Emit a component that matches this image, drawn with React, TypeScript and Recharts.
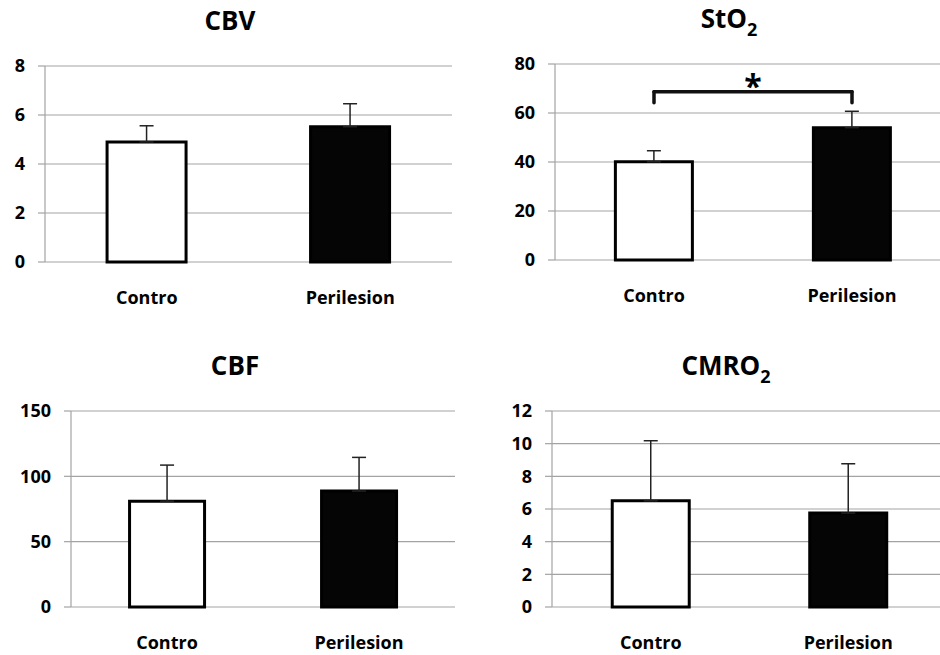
import React from 'react';
import {
  BarChart, Bar, XAxis, YAxis, CartesianGrid, ErrorBar, Cell, ReferenceLine,
} from 'recharts';

const categories = ['Contro', 'Perilesion'];

const cbvMean = [4.9, 5.52];
const cbvErr = [0.66, 0.94];
const cbvTicks = [0, 2, 4, 6, 8];

const sto2Mean = [40.1, 54.0];
const sto2Err = [4.5, 6.7];
const sto2Ticks = [0, 20, 40, 60, 80];
const sto2BracketY = [68.7, 64.2];

const cbfMean = [81, 88.7];
const cbfErr = [27.6, 25.8];
const cbfTicks = [0, 50, 100, 150];

const cmro2Mean = [6.5, 5.75];
const cmro2Err = [3.68, 3.02];
const cmro2Ticks = [0, 2, 4, 6, 8, 10, 12];

const barFills = ['#ffffff', '#050505'];

const FONT = "'Open Sans', 'DejaVu Sans', sans-serif";
const GRID = '#a3a3a3';

function build(means: number[], errs: number[]) {
  return categories.map((name, i) => ({ name, value: means[i], err: [0, errs[i]] }));
}

function YTick(props: any) {
  const { x, y, payload } = props;
  return (
    <text x={x} y={y} dy="0.36em" textAnchor="end"
      style={{ fontFamily: FONT, fontWeight: 700, fontSize: 18, fill: '#000' }}>
      {payload.value}
    </text>
  );
}

function XTick(props: any) {
  const { x, y, payload } = props;
  return (
    <text x={x} y={y} dy="0.72em" textAnchor="middle"
      style={{ fontFamily: FONT, fontWeight: 700, fontSize: 18, fill: '#000' }}>
      {payload.value}
    </text>
  );
}

type PanelProps = {
  left: number; top: number; width: number; height: number; boxWidth: number;
  yWidth: number; margin: { top: number; right: number; bottom: number; left: number };
  xHeight: number; data: any[]; ticks: number[]; children?: React.ReactNode;
};

function Panel(p: PanelProps) {
  const max = p.ticks[p.ticks.length - 1];
  return (
    <div style={{ position: 'absolute', left: p.left, top: p.top, width: p.boxWidth, height: p.height, overflow: 'hidden' }}>
      <BarChart width={p.width} height={p.height} data={p.data} margin={p.margin} barCategoryGap="30.5%">
        <CartesianGrid vertical={false} stroke={GRID} strokeWidth={1.2} />
        <XAxis
          xAxisId="edges"
          type="number"
          dataKey={() => 1}
          domain={[0, 2]}
          ticks={[0, 1, 2]}
          tick={false}
          axisLine={false}
          tickLine={{ stroke: GRID, strokeWidth: 1.2 }}
          tickSize={7}
          height={0}
        />
        <XAxis
          dataKey="name"
          axisLine={false}
          tickLine={false}
          tickSize={0}
          tickMargin={29}
          height={p.xHeight}
          tick={<XTick />}
        />
        <YAxis
          width={p.yWidth}
          domain={[0, max]}
          ticks={p.ticks}
          interval={0}
          axisLine={{ stroke: GRID, strokeWidth: 1.2 }}
          tickLine={{ stroke: GRID, strokeWidth: 1.2 }}
          tickSize={7}
          tickMargin={13}
          tick={<YTick />}
        />
        <Bar dataKey="value" isAnimationActive={false} stroke="#000" strokeWidth={3}>
          {p.data.map((_, i) => (
            <Cell key={i} fill={barFills[i]} />
          ))}
          <ErrorBar dataKey="err" direction="y" width={7} stroke="#222" strokeWidth={1.5} isAnimationActive={false} />
        </Bar>
        {p.children}
      </BarChart>
    </div>
  );
}

function Title({ cx, top, text, sub }: { cx: number; top: number; text: string; sub?: string }) {
  return (
    <div style={{
      position: 'absolute', left: cx - 150, top, width: 300, textAlign: 'center',
      fontFamily: FONT, fontWeight: 700, fontSize: 26, lineHeight: 1, color: '#000', whiteSpace: 'nowrap',
    }}>
      {text}
      {sub ? <span style={{ fontSize: 18, position: 'relative', top: 8 }}>{sub}</span> : null}
    </div>
  );
}

export default function App() {
  return (
    <div style={{ position: 'absolute', left: 0, top: 0, width: 940, height: 655, overflow: 'hidden', background: '#fff' }}>
      <Title cx={230} top={7} text="CBV" />
      <Title cx={729} top={5} text="StO" sub="2" />
      <Title cx={235} top={352} text="CBF" />
      <Title cx={726} top={352} text="CMRO" sub="2" />

      <Panel left={0} top={0} width={470} boxWidth={470} height={320}
        yWidth={45} margin={{ top: 66, right: 18, bottom: 8, left: 0 }} xHeight={50}
        data={build(cbvMean, cbvErr)} ticks={cbvTicks} />

      <Panel left={470} top={0} width={490} boxWidth={470} height={320}
        yWidth={85} margin={{ top: 64, right: 9, bottom: 10, left: 0 }} xHeight={50}
        data={build(sto2Mean, sto2Err)} ticks={sto2Ticks}>
        <ReferenceLine
          segment={[{ x: categories[0], y: sto2BracketY[0] }, { x: categories[1], y: sto2BracketY[0] }]}
          stroke="#111" strokeWidth={3.5} strokeLinecap="round"
          label={{ value: '*', position: 'top', offset: -6, fill: '#000', fontSize: 32, fontWeight: 700, fontFamily: FONT }}
        />
        <ReferenceLine
          segment={[{ x: categories[0], y: sto2BracketY[0] }, { x: categories[0], y: sto2BracketY[1] }]}
          stroke="#111" strokeWidth={3.5} strokeLinecap="round"
        />
        <ReferenceLine
          segment={[{ x: categories[1], y: sto2BracketY[0] }, { x: categories[1], y: sto2BracketY[1] }]}
          stroke="#111" strokeWidth={3.5} strokeLinecap="round"
        />
      </Panel>

      <Panel left={0} top={340} width={470} boxWidth={470} height={315}
        yWidth={71} margin={{ top: 71, right: 15, bottom: 8, left: 0 }} xHeight={40}
        data={build(cbfMean, cbfErr)} ticks={cbfTicks} />

      <Panel left={470} top={340} width={490} boxWidth={470} height={315}
        yWidth={82} margin={{ top: 71, right: 13, bottom: 8, left: 0 }} xHeight={40}
        data={build(cmro2Mean, cmro2Err)} ticks={cmro2Ticks} />
    </div>
  );
}
